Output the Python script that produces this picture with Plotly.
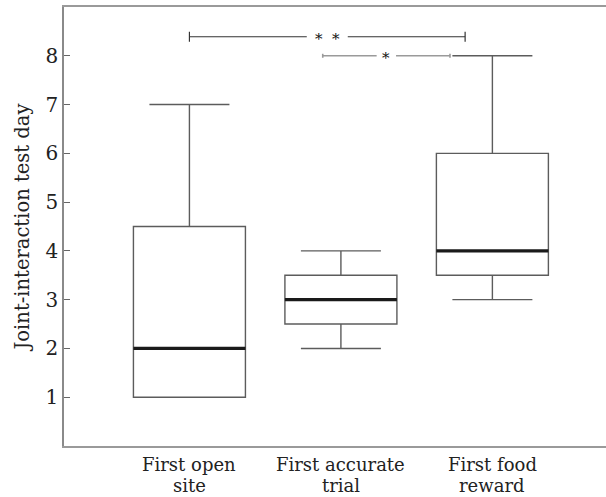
import plotly.graph_objects as go

# ---- data ----
categories = ["First open<br>site", "First accurate<br>trial", "First food<br>reward"]
q1 = [1, 2.5, 3.5]
median = [2, 3, 4]
q3 = [4.5, 3.5, 6]
lower_whisker = [1, 2, 3]
upper_whisker = [7, 4, 8]
y_ticks = [1, 2, 3, 4, 5, 6, 7, 8]
y_title = "Joint-interaction test day"

# significance brackets: label, from-x, to-x, height
sig_labels = ["*&nbsp;&nbsp;*", "*"]
sig_x0 = [0.0, 0.88]
sig_x1 = [1.82, 1.72]
sig_y = [8.39, 8.0]

# ---- layout constants ----
W, H = 606, 497
ML, MR, MT, MB = 64, 0, 7, 51
XR = [-0.828, 2.75]
YR = [0, 9]
px_x = (W - ML - MR) / (XR[1] - XR[0])
px_y = (H - MT - MB) / (YR[1] - YR[0])
BOX_W = 112 / px_x
FONT = "DejaVu Serif"
TXT = "#222222"

xs = list(range(len(categories)))

fig = go.Figure()
fig.add_trace(go.Box(
    x=xs, q1=q1, median=median, q3=q3,
    lowerfence=lower_whisker, upperfence=upper_whisker,
    width=BOX_W, whiskerwidth=80 / 112,
    line=dict(color="#5c5c5c", width=1.4),
    fillcolor="rgba(0,0,0,0)", boxpoints=False, showlegend=False,
    hoverinfo="skip",
))

shapes = []
for x, m in zip(xs, median):
    shapes.append(dict(type="line", xref="x", yref="y",
                       x0=x - BOX_W / 2, x1=x + BOX_W / 2, y0=m, y1=m,
                       line=dict(color="#1a1a1a", width=3.2)))

annotations = []
sig_style = [dict(color="#333333", width=1.2, tick=5, gap=20.5),
             dict(color="#9a9a9a", width=1.6, tick=2, gap=9.7)]
for lab, a, b, h, st in zip(sig_labels, sig_x0, sig_x1, sig_y, sig_style):
    mid = (a + b) / 2
    g = st["gap"] / px_x
    ln = dict(color=st["color"], width=st["width"])
    shapes.append(dict(type="line", xref="x", yref="y", x0=a, x1=mid - g, y0=h, y1=h, line=ln))
    shapes.append(dict(type="line", xref="x", yref="y", x0=mid + g, x1=b, y0=h, y1=h, line=ln))
    t = st["tick"] / px_y
    for e in (a, b):
        shapes.append(dict(type="line", xref="x", yref="y", x0=e, x1=e, y0=h - t, y1=h + t, line=ln))
    annotations.append(dict(x=mid, y=h, xref="x", yref="y", text=lab, showarrow=False,
                            font=dict(family=FONT, size=15, color="#111111"),
                            xanchor="center", yanchor="middle", yshift=-2))

for x, c in zip(xs, categories):
    for k, part in enumerate(c.split("<br>")):
        annotations.append(dict(x=x, y=0, xref="x", yref="paper", text=part, showarrow=False,
                                font=dict(family=FONT, size=18, color=TXT),
                                xanchor="center", yanchor="top", yshift=-6 - 21 * k))

fig.update_layout(
    width=W, height=H,
    margin=dict(l=ML, r=MR, t=MT, b=MB, pad=0),
    plot_bgcolor="white", paper_bgcolor="white",
    shapes=shapes, annotations=annotations,
    font=dict(family=FONT, color=TXT),
    xaxis=dict(range=XR, showgrid=False, zeroline=False, showticklabels=False,
               ticks="", showline=True, linecolor="#9a9a9a", linewidth=2, mirror=True),
    yaxis=dict(range=YR, tickvals=y_ticks, showgrid=False, zeroline=False,
               ticks="inside", ticklen=6, tickcolor="#666666", tickwidth=1.2,
               showline=True, linecolor="#8a8a8a", linewidth=1.5,
               tickfont=dict(family=FONT, size=20, color=TXT),
               title=dict(text=y_title, font=dict(family=FONT, size=19.5, color=TXT), standoff=11)),
)

fig.write_html("out.html")
